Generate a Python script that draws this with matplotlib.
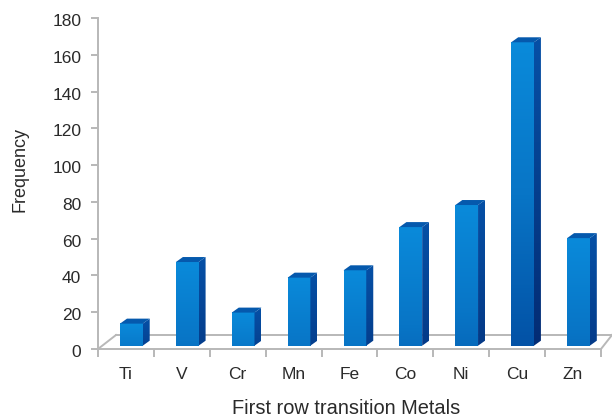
#!/usr/bin/env python3

import numpy as np
import matplotlib
matplotlib.use('Agg')
import matplotlib.pyplot as plt
from matplotlib.colors import LinearSegmentedColormap
from matplotlib.patches import Polygon
from matplotlib.transforms import ScaledTranslation

metals = ['Ti', 'V', 'Cr', 'Mn', 'Fe', 'Co', 'Ni', 'Cu', 'Zn']
frequency = [12, 45.5, 18, 37, 41, 64.5, 76.5, 165, 58.5]
y_ticks = list(range(0, 181, 20))

GREY = '#b8b8b8'
TEXT = '#2a2a2a'

plt.rcParams['font.family'] = ['Liberation Sans', 'DejaVu Sans']

def main():
	W, H = 612, 420
	fig = plt.figure(figsize=(W/100, H/100), dpi=100)
	left, right, top, bottom = 98, 601, 18, 349
	ax = fig.add_axes([left/W, 1-bottom/H, (right-left)/W, (bottom-top)/H])

	# 3d look is faked with offsets in data units
	px = 1/((right-left)/9)
	py = 180/(bottom-top)
	base = 3.3*py
	bar_l, bar_r = 22*px-0.5, 44.7*px-0.5
	dx, dy = 7*px, 5*py

	# floor
	back = 14*py
	ax.plot([18*px-0.5, 9.5], [back, back], color=GREY, lw=1.4, clip_on=False, zorder=1)
	ax.plot([-0.5, 18*px-0.5], [0, back], color=GREY, lw=1.4, clip_on=False, zorder=1)
	ax.plot([8.5, 8.5+11*px], [0, back], color=GREY, lw=1.4, clip_on=False, zorder=1)

	front_cmap = LinearSegmentedColormap.from_list('front', ['#0a8ada', '#0875c6', '#0352a6'])
	side_cmap = LinearSegmentedColormap.from_list('side', ['#0650a6', '#032c74'])
	for i, v in enumerate(frequency):
		x0, x1 = i+bar_l, i+bar_r
		y0, y1 = base, base+v
		# darker towards the bottom on tall bars
		n = min(1.0, 0.35+v/166*0.65)
		grad = np.linspace(0, n, 64).reshape(-1, 1)
		ax.imshow(grad, cmap=front_cmap, vmin=0, vmax=1, extent=[x0, x1, y0, y1],
			origin='upper', aspect='auto', zorder=3, interpolation='bilinear')
		side = Polygon([[x1, y0], [x1+dx, y0+dy], [x1+dx, y1+dy], [x1, y1]],
			closed=True, fc='none', ec='none', transform=ax.transData)
		ax.add_patch(side)
		im = ax.imshow(grad, cmap=side_cmap, vmin=0, vmax=1, extent=[x1, x1+dx, y0, y1+dy],
			origin='upper', aspect='auto', zorder=3, interpolation='bilinear')
		im.set_clip_path(side)
		ax.add_patch(Polygon([[x0, y1], [x0+dx, y1+dy], [x1+dx, y1+dy], [x1, y1]],
			closed=True, fc='#0559ad', ec='none', zorder=3, clip_on=False))

	ax.set_xlim(-0.5, 8.5)
	ax.set_ylim(0, 180)
	ax.set_yticks(y_ticks)
	ax.set_xticks(np.arange(-0.5, 9, 1))
	ax.set_xticklabels([])
	ax.set_xticks(range(9), minor=True)
	ax.set_xticklabels(metals, minor=True)
	ax.tick_params(axis='x', which='major', length=6, width=1.4, color=GREY)
	ax.tick_params(axis='x', which='minor', length=0, labelsize=12.5, pad=13, labelcolor=TEXT)
	ax.tick_params(axis='y', length=5, width=1.4, color=GREY, labelsize=12.5, pad=7, labelcolor=TEXT)
	# the y labels sit a little under their ticks
	shift = ScaledTranslation(0, -2/100, fig.dpi_scale_trans)
	for lab in ax.get_yticklabels():
		lab.set_transform(lab.get_transform()+shift)
	for s in ['top', 'right']:
		ax.spines[s].set_visible(False)
	for s in ['left', 'bottom']:
		ax.spines[s].set_color(GREY)
		ax.spines[s].set_linewidth(1.4)

	fig.text(346/W, 1-408/H, 'First row transition Metals', ha='center', va='center', fontsize=14.4, color=TEXT)
	fig.text(20/W, 1-170/H, 'Frequency', ha='center', va='center', rotation=90, fontsize=13, color=TEXT)
	plt.savefig('out.png', dpi=100)

if __name__ == '__main__':
	main()
